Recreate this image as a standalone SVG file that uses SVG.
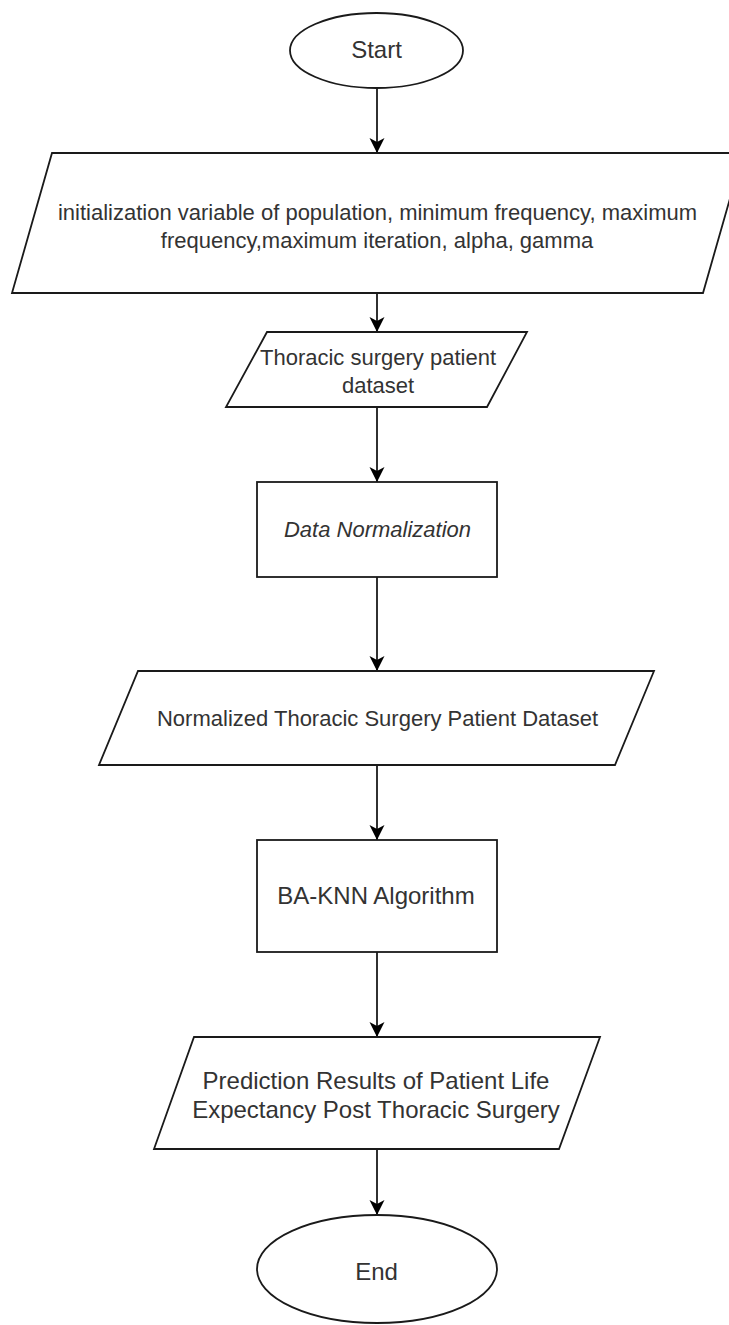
<svg xmlns="http://www.w3.org/2000/svg" width="729" height="1325" viewBox="0 0 729 1325">
<style>
.shape{fill:#ffffff;stroke:#1a1a1a;stroke-width:1.8}
.conn{fill:none;stroke:#1a1a1a;stroke-width:1.8}
.t{font-family:"Liberation Sans",Arial,sans-serif;fill:#333333;text-anchor:middle}
.s22{font-size:22px}
.s24{font-size:24px}
</style>
<defs>
<marker id="arr" markerUnits="userSpaceOnUse" markerWidth="16" markerHeight="16" refX="15" refY="7.5" orient="auto">
<path d="M0,0 L15,7.5 L0,15 L4,7.5 Z" fill="#000000"/>
</marker>
</defs>
<rect width="729" height="1325" fill="#ffffff"/>
<g id="connectors">
<line class="conn" x1="377" y1="88" x2="377" y2="153" marker-end="url(#arr)"/>
<line class="conn" x1="377" y1="293" x2="377" y2="332" marker-end="url(#arr)"/>
<line class="conn" x1="377" y1="407" x2="377" y2="482" marker-end="url(#arr)"/>
<line class="conn" x1="377" y1="577" x2="377" y2="671" marker-end="url(#arr)"/>
<line class="conn" x1="377" y1="765" x2="377" y2="840" marker-end="url(#arr)"/>
<line class="conn" x1="377" y1="952" x2="377" y2="1037" marker-end="url(#arr)"/>
<line class="conn" x1="377" y1="1149" x2="377" y2="1215" marker-end="url(#arr)"/>
</g>
<g id="start">
<ellipse class="shape" cx="376.5" cy="50.5" rx="86.5" ry="37.5"/>
<text class="t s24" x="376.5" y="58">Start</text>
</g>
<g id="init">
<polygon class="shape" points="52,153 743,153 703,293 12,293"/>
<text class="t s22" x="377.5" y="219.5">initialization variable of population, minimum frequency, maximum</text>
<text class="t s22" x="377" y="247.5">frequency,maximum iteration, alpha, gamma</text>
</g>
<g id="dataset">
<polygon class="shape" points="267,332 527,332 487,407 226,407"/>
<text class="t s22" x="378" y="364.5">Thoracic surgery patient</text>
<text class="t s22" x="378" y="392.5">dataset</text>
</g>
<g id="normalization">
<rect class="shape" x="257" y="482" width="240" height="95"/>
<text class="t s22" x="377.5" y="537" font-style="italic">Data Normalization</text>
</g>
<g id="normalized">
<polygon class="shape" points="138,671 654,671 615,765 99,765"/>
<text class="t s22" x="377.5" y="726">Normalized Thoracic Surgery Patient Dataset</text>
</g>
<g id="baknn">
<rect class="shape" x="257" y="840" width="240" height="112"/>
<text class="t s24" x="376" y="903.5">BA-KNN Algorithm</text>
</g>
<g id="prediction">
<polygon class="shape" points="194,1037 600,1037 559,1149 154,1149"/>
<text class="t s24" x="376" y="1088.5">Prediction Results of Patient Life</text>
<text class="t s24" x="376" y="1117.5">Expectancy Post Thoracic Surgery</text>
</g>
<g id="end">
<ellipse class="shape" cx="377" cy="1269" rx="120" ry="54"/>
<text class="t s24" x="376.5" y="1279.5">End</text>
</g>
</svg>
